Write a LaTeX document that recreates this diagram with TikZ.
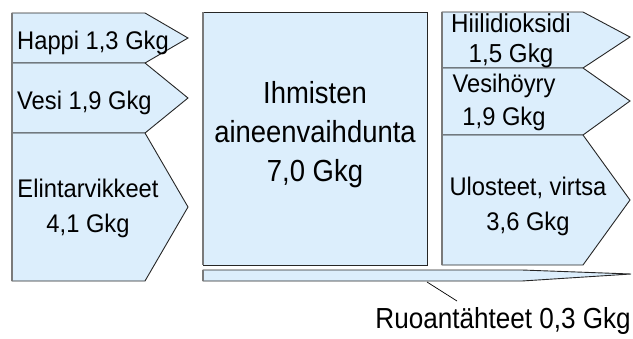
\documentclass[tikz,border=0pt]{standalone}
\usepackage{fontspec}
\setmainfont{Liberation Sans}
\newfontfamily\smallfnt{Liberation Sans}[FakeStretch=0.93]
\newfontfamily\bigfnt{Liberation Sans}[FakeStretch=0.9]
\definecolor{boxfill}{HTML}{DCEEFC}
\definecolor{edgegray}{HTML}{7A7A7A}
\tikzset{
  shapefill/.style={fill=boxfill, draw=black!85, line width=0.9pt, line join=miter},
  leftedge/.style={draw=edgegray, line width=1.8pt},
  lbl/.style={inner sep=0pt, font=\smallfnt\fontsize{25.5}{35}\selectfont, align=center},
  biglbl/.style={inner sep=0pt, font=\bigfnt\fontsize{30.5}{39}\selectfont, align=center},
  leader/.style={draw=black, line width=0.7pt}
}
\begin{document}
\begin{tikzpicture}[x=1pt,y=-1pt]
\useasboundingbox (0,0) rectangle (633,338);
% left column
\path[shapefill] (12,13) -- (145,13) -- (188,38) -- (145,63) -- (12,63) -- cycle;
\path[shapefill] (12,63) -- (145,63) -- (188,98) -- (145,133) -- (12,133) -- cycle;
\path[shapefill] (12,133) -- (145,133) -- (188,207) -- (145,281) -- (12,281) -- cycle;
\draw[leftedge] (12,13) -- (12,281);
% centre box
\path[shapefill] (203,12) rectangle (427,265);
\draw[leftedge] (203,12) -- (203,265);
% tapered bar
\path[shapefill] (203,270) -- (522,270) -- (631,274) -- (522,281) -- (203,281) -- cycle;
\draw[leftedge] (203,270) -- (203,281);
% right column
\path[shapefill] (442,12) -- (583,12) -- (630,37) -- (583,68) -- (442,68) -- cycle;
\path[shapefill] (442,68) -- (583,68) -- (630,101) -- (583,135) -- (442,135) -- cycle;
\path[shapefill] (442,135) -- (583,135) -- (630,200) -- (583,265) -- (442,265) -- cycle;
\draw[leftedge] (442,12) -- (442,265);
% labels
\node[lbl, anchor=base west] (happi) at (17,49) {Happi 1,3 Gkg};
\node[lbl, anchor=base west] (vesi) at (17,109) {Vesi 1,9 Gkg};
\node[lbl, anchor=base] (elin) at (88,232) {Elintarvikkeet\\4,1 Gkg};
\node[biglbl, anchor=base] (aine) at (315,181) {Ihmisten\\aineenvaihdunta\\7,0 Gkg};
\node[lbl, anchor=base, font=\smallfnt\fontsize{26}{30}\selectfont] (co2) at (511,62) {Hiilidioksidi\\1,5 Gkg};
\node[lbl, anchor=base, font=\smallfnt\fontsize{25.5}{33}\selectfont] (hoyry) at (504,125) {Vesihöyry\\1,9 Gkg};
\node[lbl, anchor=base] (ulos) at (528,230) {Ulosteet, virtsa\\3,6 Gkg};
\node[inner sep=0pt, font=\bigfnt\fontsize{29}{32}\selectfont, anchor=base east] (ruoka) at (631,328) {Ruoantähteet 0,3 Gkg};
\coordinate (leadA) at (427,282);
\coordinate (leadB) at (457,301);
\draw[leader] (leadA) -- (leadB);
\end{tikzpicture}
\end{document}
